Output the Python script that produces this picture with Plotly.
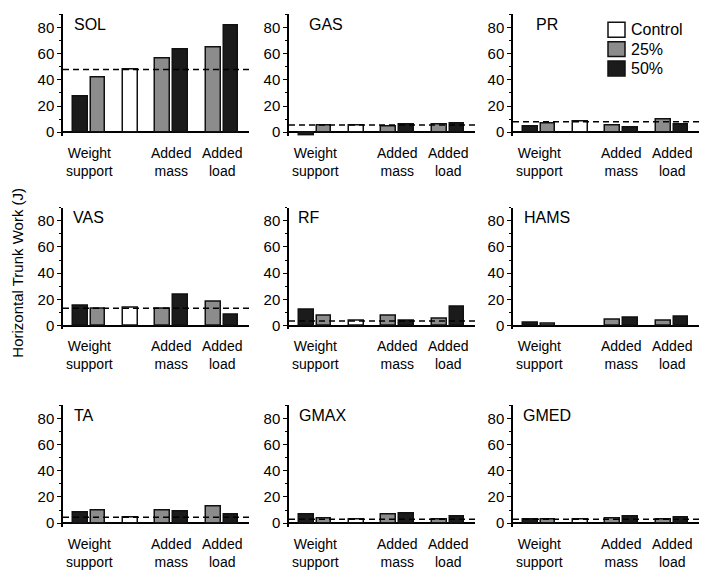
import plotly.graph_objects as go
from plotly.subplots import make_subplots

# muscles, in panel order (row by row)
muscles = ["SOL", "GAS", "PR", "VAS", "RF", "HAMS", "TA", "GMAX", "GMED"]

# horizontal trunk work (J) per condition
ws50 = [27, -2.5, 4.5, 15, 12.2, 2.3, 8.3, 6.4, 2.6]
ws25 = [41.5, 5.5, 6.5, 12.5, 7.1, 1.3, 9.4, 4.0, 2.5]
control = [48, 5.5, 8.0, 13.2, 3.4, None, 4.5, 2.9, 2.9]
am25 = [56, 4.5, 5.5, 12.8, 7.6, 4.3, 9.6, 6.6, 4.0]
am50 = [63, 6.2, 3.5, 23.4, 3.3, 5.8, 8.8, 7.4, 4.8]
al25 = [65, 6.0, 10.0, 18.5, 5.0, 3.8, 13.0, 2.5, 3.0]
al50 = [81.5, 7.0, 5.8, 8.3, 14.0, 7.0, 6.8, 4.8, 4.5]

group_labels = ["Weight<br>support", "Added<br>mass", "Added<br>load"]
legend_labels = ["Control", "25%", "50%"]

BLACK = "#1b1b1b"
GRAY = "#8c8c8c"
WHITE = "#ffffff"
FONT = "Arial, Liberation Sans, Helvetica, sans-serif"

# page is 709x581 but the browser body keeps an 8px margin,
# so the figure is shrunk and every pixel position shifted by it
PAGE_W, PAGE_H, PAD = 709, 581, 8
W, H = PAGE_W - PAD, PAGE_H - PAD


def px_x(p):
    return (p - PAD) / W


def px_y(p):
    return 1 - (p - PAD) / H


# bar slots along x (in bar-width units)
slots = [0, 1, 2.85, 4.7, 5.7, 7.6, 8.6]
group_centers = [0.5, 5.2, 8.1]
bar_colors = [BLACK, GRAY, WHITE, GRAY, BLACK, GRAY, BLACK]

# pixel layout of the 3x3 grid (page coordinates)
col_x0 = [63, 289, 513]
col_w = 186
row_zero = [133.3, 328.3, 527.7]
px_per_unit = 1.32
y_lo, y_hi = -2.8, 90
label_dx = [9, 18, 21, 8, 7, 9, 9, 8, 8]

fig = make_subplots(rows=3, cols=3)

annotations = []
shapes = []
for i, name in enumerate(muscles):
    r, c = divmod(i, 3)
    n = i + 1
    sfx = "" if n == 1 else str(n)
    vals = [ws50[i], ws25[i], control[i], am25[i], am50[i], al25[i], al50[i]]
    fig.add_trace(
        go.Bar(
            x=slots, y=vals, width=0.83,
            marker=dict(color=bar_colors, line=dict(color="#111111", width=1.5)),
            showlegend=False,
        ),
        row=r + 1, col=c + 1,
    )

    top = row_zero[r] - y_hi * px_per_unit
    bot = row_zero[r] - y_lo * px_per_unit
    fig.layout["xaxis" + sfx].update(
        domain=[px_x(col_x0[c]), px_x(col_x0[c] + col_w)],
        range=[-1.0, 9.63], showline=False, showgrid=False,
        zeroline=False, showticklabels=False, ticks="",
    )
    fig.layout["yaxis" + sfx].update(
        domain=[px_y(bot), px_y(top)],
        range=[y_lo, y_hi], showgrid=False,
        showline=True, linecolor="black", linewidth=1.5,
        zeroline=True, zerolinecolor="black", zerolinewidth=1.5,
        tickvals=[0, 20, 40, 60, 80], ticks="outside", ticklen=4,
        tickwidth=1.2, tickcolor="black",
        minor=dict(ticks="outside", ticklen=2.5, dtick=10, tick0=0,
                   tickcolor="black", tickwidth=1),
        tickfont=dict(family=FONT, size=15, color="black"),
    )

    # muscle name
    annotations.append(dict(
        text=name, xref=f"x{sfx} domain", yref=f"y{sfx}",
        x=label_dx[i] / col_w, y=82.5, xanchor="left", yanchor="middle",
        showarrow=False, font=dict(family=FONT, size=16, color="black"),
    ))
    # condition group labels under the axis
    for gx, lab in zip(group_centers, group_labels):
        annotations.append(dict(
            text=lab, xref=f"x{sfx}", yref="paper",
            x=gx, y=px_y(row_zero[r] + 11),
            xanchor="center", yanchor="top", showarrow=False,
            font=dict(family=FONT, size=14, color="black"),
        ))
    # dashed control reference
    if control[i] is not None:
        shapes.append(dict(
            type="line", xref=f"x{sfx} domain", yref=f"y{sfx}",
            x0=0, x1=1, y0=control[i], y1=control[i],
            line=dict(color="black", width=1.5, dash="6px,4px"),
        ))

# legend drawn as boxes in the top-right panel
leg_fill = [WHITE, GRAY, BLACK]
leg_cy = [30, 49.5, 69]
for lab, fill, cy in zip(legend_labels, leg_fill, leg_cy):
    shapes.append(dict(
        type="rect", xref="paper", yref="paper",
        x0=px_x(608), x1=px_x(625), y0=px_y(cy + 7.5), y1=px_y(cy - 7.5),
        fillcolor=fill, line=dict(color="#111111", width=1.5),
    ))
    annotations.append(dict(
        text=lab, xref="paper", yref="paper", x=px_x(629), y=px_y(cy),
        xanchor="left", yanchor="middle", showarrow=False,
        font=dict(family=FONT, size=16, color="black"),
    ))

annotations.append(dict(
    text="Horizontal Trunk Work (J)", xref="paper", yref="paper",
    x=px_x(18), y=px_y(275), textangle=-90, showarrow=False,
    xanchor="center", yanchor="middle", borderpad=0,
    font=dict(family=FONT, size=15, color="black"),
))

fig.update_layout(
    width=W, height=H,
    margin=dict(l=0, r=0, t=0, b=0),
    paper_bgcolor="white", plot_bgcolor="white",
    bargap=0, annotations=annotations, shapes=shapes,
)

fig.write_html("out.html")
